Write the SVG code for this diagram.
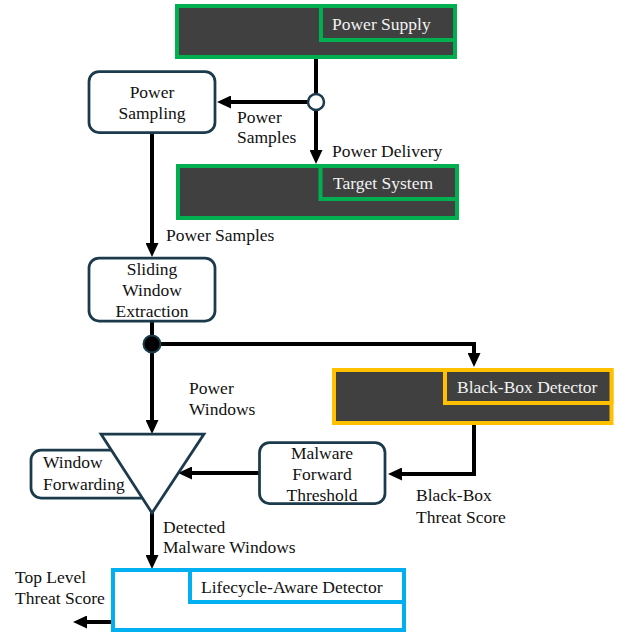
<svg xmlns="http://www.w3.org/2000/svg" width="626" height="637" viewBox="0 0 626 637" font-family="'Liberation Serif', 'DejaVu Serif', 'Times New Roman', serif" font-size="17.5">
<style>
text{font-family:'Liberation Serif','DejaVu Serif','Times New Roman',serif;font-size:17.5px;fill:#111}
.lt{fill:#f2f2f2}
.node{fill:#fff;stroke:#1b3a4b;stroke-width:2.75}
.dark{fill:#404040;stroke-width:4}
.g{stroke:#00b050}
.y{stroke:#ffc000}
.b{fill:#fff;stroke:#00b0f0;stroke-width:4}
.c{fill:none;stroke:#000;stroke-width:4}
.ca{fill:none;stroke:#000;stroke-width:4;marker-end:url(#ah)}
.mid{text-anchor:middle}
</style>
<defs>
<marker id="ah" markerUnits="userSpaceOnUse" markerWidth="14" markerHeight="13" refX="4" refY="6.5" orient="auto">
<path d="M0,0 L14,6.5 L0,13 z" fill="#000"/>
</marker>
</defs>
<g id="connectors">
<path class="c" d="M316,57 V94"/>
<path class="ca" d="M308,102 H227"/>
<path class="ca" d="M316,110 V154"/>
<path class="ca" d="M152,133 V247"/>
<path class="c" d="M152,322 V344"/>
<path class="ca" d="M152,344 V424"/>
<path class="ca" d="M152,344 H474 V357"/>
<path class="ca" d="M474,425 V474 H398"/>
<path class="ca" d="M259,473 H188"/>
<path class="ca" d="M152,513 V559"/>
<path class="ca" d="M113,622 H83"/>
<text x="237" y="123">Power</text>
<text x="237" y="143">Samples</text>
<text x="332" y="157">Power Delivery</text>
<text x="166" y="241">Power Samples</text>
<text x="189" y="394">Power</text>
<text x="189" y="415">Windows</text>
<text x="416" y="501">Black-Box</text>
<text x="416" y="523">Threat Score</text>
<text x="163" y="533">Detected</text>
<text x="163" y="553">Malware Windows</text>
<text x="15" y="583">Top Level</text>
<text x="15" y="604">Threat Score</text>
</g>
<g id="power-supply">
<rect class="dark g" x="177" y="6" width="278" height="51"/>
<rect class="dark g" x="321" y="6" width="134" height="34"/>
<text class="lt" x="332" y="30">Power Supply</text>
</g>
<g id="junction-1">
<circle cx="316" cy="102" r="8" fill="#fff" stroke="#1b3a4b" stroke-width="2.5"/>
</g>
<g id="power-sampling">
<rect class="node" x="89" y="71.5" width="126" height="61" rx="10"/>
<text class="mid" x="152" y="98">Power</text>
<text class="mid" x="152" y="119">Sampling</text>
</g>
<g id="target-system">
<rect class="dark g" x="178" y="166" width="279" height="52"/>
<rect class="dark g" x="320.5" y="166" width="136.5" height="33"/>
<text class="lt" x="333" y="189">Target System</text>
</g>
<g id="sliding-window">
<rect class="node" x="89" y="258" width="126" height="63" rx="10"/>
<text class="mid" x="152" y="275">Sliding</text>
<text class="mid" x="152" y="296">Window</text>
<text class="mid" x="152" y="317">Extraction</text>
</g>
<g id="junction-2">
<circle cx="152" cy="344" r="8.5" fill="#000" stroke="#1b3a4b" stroke-width="2"/>
</g>
<g id="black-box-detector">
<rect class="dark y" x="334" y="370" width="277.5" height="53"/>
<rect class="dark y" x="445" y="370" width="166.5" height="33"/>
<text class="lt" x="457" y="393">Black-Box Detector</text>
</g>
<g id="malware-threshold">
<rect class="node" x="259.5" y="442.5" width="125.5" height="61" rx="10"/>
<text class="mid" x="322" y="459">Malware</text>
<text class="mid" x="322" y="480">Forward</text>
<text class="mid" x="322" y="501">Threshold</text>
</g>
<g id="window-forwarding">
<rect class="node" x="31" y="450" width="120" height="48" rx="10"/>
<polygon class="node" points="101,434 204,434 152,513"/>
<text x="43" y="468">Window</text>
<text x="43" y="490">Forwarding</text>
</g>
<g id="lifecycle-detector">
<rect class="b" x="113" y="570" width="291" height="60"/>
<rect class="b" x="190" y="570" width="214" height="32"/>
<text x="201" y="593">Lifecycle-Aware Detector</text>
</g>
</svg>
